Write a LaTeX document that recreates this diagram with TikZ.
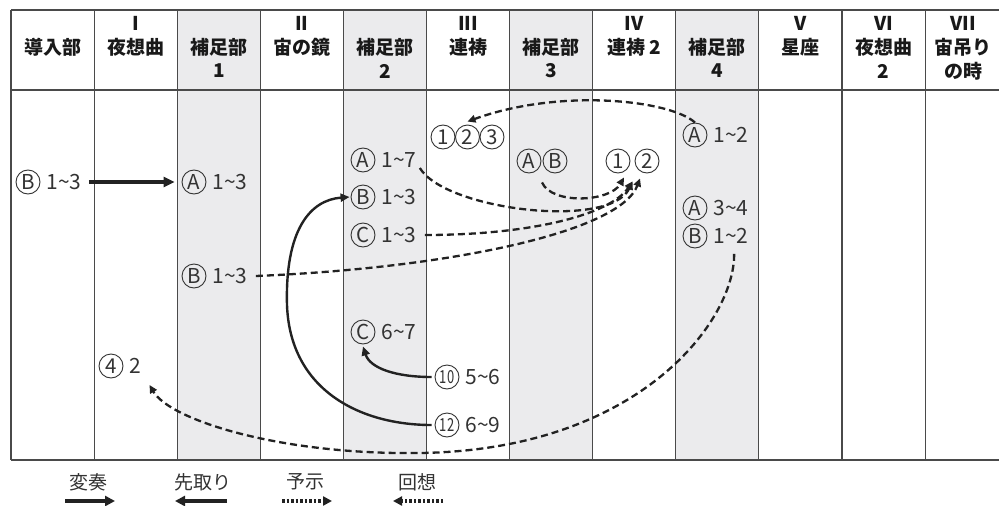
\documentclass[tikz,border=0pt]{standalone}
\usepackage{graphicx}
\usepackage{fontspec}
\setmainfont{Noto Sans CJK JP}
\usetikzlibrary{arrows.meta,calc}
\definecolor{ink}{HTML}{222222}
\definecolor{gridc}{HTML}{4A4A4A}
\definecolor{colshade}{HTML}{EBEBED}
\definecolor{txt}{HTML}{333333}
\newcommand\tld{\textasciitilde}
\newcommand\lab[5]{%
  \node[circ] (#1c) at (#2,#3) {#4};
  \node[lt, anchor=west] (#1t) at ([xshift=6pt]#1c.east) {#5};}
\begin{document}
\begin{tikzpicture}[x=1pt,y=-1pt,
  hd/.style={font=\fontsize{19}{20}\selectfont\bfseries, text=black!90, inner sep=0pt},
  circ/.style={circle, draw=txt, line width=0.9pt, minimum size=24pt, inner sep=0pt, text=txt, font=\fontsize{20.5}{20}\selectfont},
  lt/.style={inner sep=0pt, text=txt, font=\fontsize{21}{21}\selectfont},
  lg/.style={inner sep=0pt, text=txt, font=\fontsize{19}{19}\selectfont},
  gridline/.style={draw=gridc, line width=1.1pt},
  thickarr/.style={draw=ink, line width=3.2pt, -{Triangle[length=11pt,width=10pt]}},
  solidarr/.style={draw=ink, line width=2.4pt, -{Triangle[length=9pt,width=8pt]}},
  dasharr/.style={draw=ink, line width=2.3pt, dash pattern=on 7pt off 4pt, -{Triangle[length=8pt,width=7.5pt]}},
  dotarr/.style={draw=ink, line width=3.2pt, dash pattern=on 2.5pt off 2pt, -{Triangle[length=9pt,width=9pt]}},
  legarr/.style={draw=ink, line width=3.2pt, -{Triangle[length=10pt,width=10pt]}}
]
\useasboundingbox (0,0) rectangle (999,506);
\fill[white] (0,0) rectangle (999,506);
% shaded columns
\foreach \i in {2,4,6,8} \fill[colshade] ({11+83.1*\i},10) rectangle ({11+83.1*(\i+1)},460);
% grid
\foreach \i in {0,...,11} \draw[gridline] ({11+83.1*\i},10) -- ({11+83.1*\i},460);
\draw[gridline] (11,10) -- (999,10);
\draw[gridline] (11,90) -- (999,90);
\draw[gridline] (11,460) -- (999,460);
% header
\node[hd] (h0) at (52.6,47) {導入部};
\node[hd] (h1r) at (135.7,23) {I};
\node[hd] (h1) at (135.7,47) {夜想曲};
\node[hd] (h2) at (218.8,47) {補足部};
\node[hd] (h2n) at (218.8,71) {1};
\node[hd] (h3r) at (301.9,23) {II};
\node[hd] (h3) at (301.9,47) {宙の鏡};
\node[hd] (h4) at (385.0,47) {補足部};
\node[hd] (h4n) at (385.0,71) {2};
\node[hd] (h5r) at (468.1,23) {III};
\node[hd] (h5) at (468.1,47) {連祷};
\node[hd] (h6) at (551.2,47) {補足部};
\node[hd] (h6n) at (551.2,71) {3};
\node[hd] (h7r) at (634.3,23) {IV};
\node[hd] (h7) at (634.3,47) {連祷 2};
\node[hd] (h8) at (717.4,47) {補足部};
\node[hd] (h8n) at (717.4,71) {4};
\node[hd] (h9r) at (800.5,23) {V};
\node[hd] (h9) at (800.5,47) {星座};
\node[hd] (h10r) at (883.6,23) {VI};
\node[hd] (h10) at (883.6,47) {夜想曲};
\node[hd] (h10n) at (883.6,71) {2};
\node[hd] (h11r) at (963,23) {VII};
\node[hd] (h11) at (963,47) {宙吊り};
\node[hd] (h11b) at (963,71) {の時};
% labels
\lab{Lz}{28}{182}{B}{1\tld3}
\lab{Laa}{194}{182}{A}{1\tld3}
\lab{Lab}{194}{276}{B}{1\tld3}
\lab{Lba}{363}{160}{A}{1\tld7}
\lab{Lbb}{363}{197}{B}{1\tld3}
\lab{Lbc}{363}{235}{C}{1\tld3}
\lab{Lbd}{363}{332}{C}{6\tld7}
\lab{Lca}{447}{377}{\scalebox{0.72}[1]{\fontsize{18}{18}\selectfont 10}}{5\tld6}
\lab{Lcb}{447}{425}{\scalebox{0.72}[1]{\fontsize{18}{18}\selectfont 12}}{6\tld9}
\lab{Lda}{695}{135}{A}{1\tld2}
\lab{Ldb}{695}{208}{A}{3\tld4}
\lab{Ldc}{695}{236}{B}{1\tld2}
\lab{Le}{111}{366}{4}{2}
\node[circ] (ta) at (443,137) {1};
\node[circ] (tb) at (467.5,137) {2};
\node[circ] (tc) at (492,137) {3};
\node[circ] (ua) at (529,161) {A};
\node[circ] (ub) at (555,161) {B};
\node[circ] (va) at (618,161) {1};
\node[circ] (vb) at (647,161) {2};
% connectors
\draw[thickarr] ([xshift=7pt]Lzt.east) -- ([xshift=-7pt]Laac.west);
\draw[solidarr] ([xshift=-3pt]Lcbc.west) .. controls (360,425) and (290,390) .. (287,305)
  .. controls (285,230) and (310,200) .. ([xshift=-1pt]Lbbc.west);
\draw[solidarr] ([xshift=-3pt]Lcac.west) .. controls (395,377) and (370,368) .. ([yshift=-2pt]Lbdc.south);
\draw[dasharr] (Ldac.north) .. controls (670,100) and (560,88) .. ([yshift=3pt]tb.north);
\draw[dasharr] ([xshift=3pt,yshift=-8pt]Lbat.east) .. controls (445,210) and (610,230) .. ($(va.south)!0.5!(vb.south)+(0,8)$);
\draw[dasharr] ([xshift=8pt]Lbct.east) .. controls (530,235) and (610,215) .. ($(va.south)!0.5!(vb.south)+(0,8)$);
\draw[dasharr] ([xshift=8pt]Labt.east) .. controls (450,268) and (620,232) .. ([xshift=-7pt,yshift=-5pt]vb.south);
\draw[dasharr] ($(ua.south)!0.5!(ub.south)+(0,9)$) .. controls (552,205) and (610,202) .. ([xshift=6pt,yshift=-4pt]va.south);
\draw[dasharr] ($(Ldct.south)+(3,10)$) .. controls (735,320) and (640,450) .. (420,453)
  .. controls (280,455) and (170,420) .. ($(Let.east)+(8,19)$);
% legend
\node[lg] (lga) at (88,482) {変奏};
\node[lg] (lgb) at (203,482) {先取り};
\node[lg] (lgc) at (305,482) {予示};
\node[lg] (lgd) at (417,482) {回想};
\coordinate (a1) at (65,501); \coordinate (a2) at (115,501);
\coordinate (b1) at (227,501); \coordinate (b2) at (175,501);
\coordinate (c1) at (282,501); \coordinate (c2) at (332,501);
\coordinate (d1) at (443,501); \coordinate (d2) at (393,501);
\draw[legarr] (a1) -- (a2);
\draw[legarr] (b1) -- (b2);
\draw[dotarr] (c1) -- (c2);
\draw[dotarr] (d1) -- (d2);
\end{tikzpicture}
\end{document}
